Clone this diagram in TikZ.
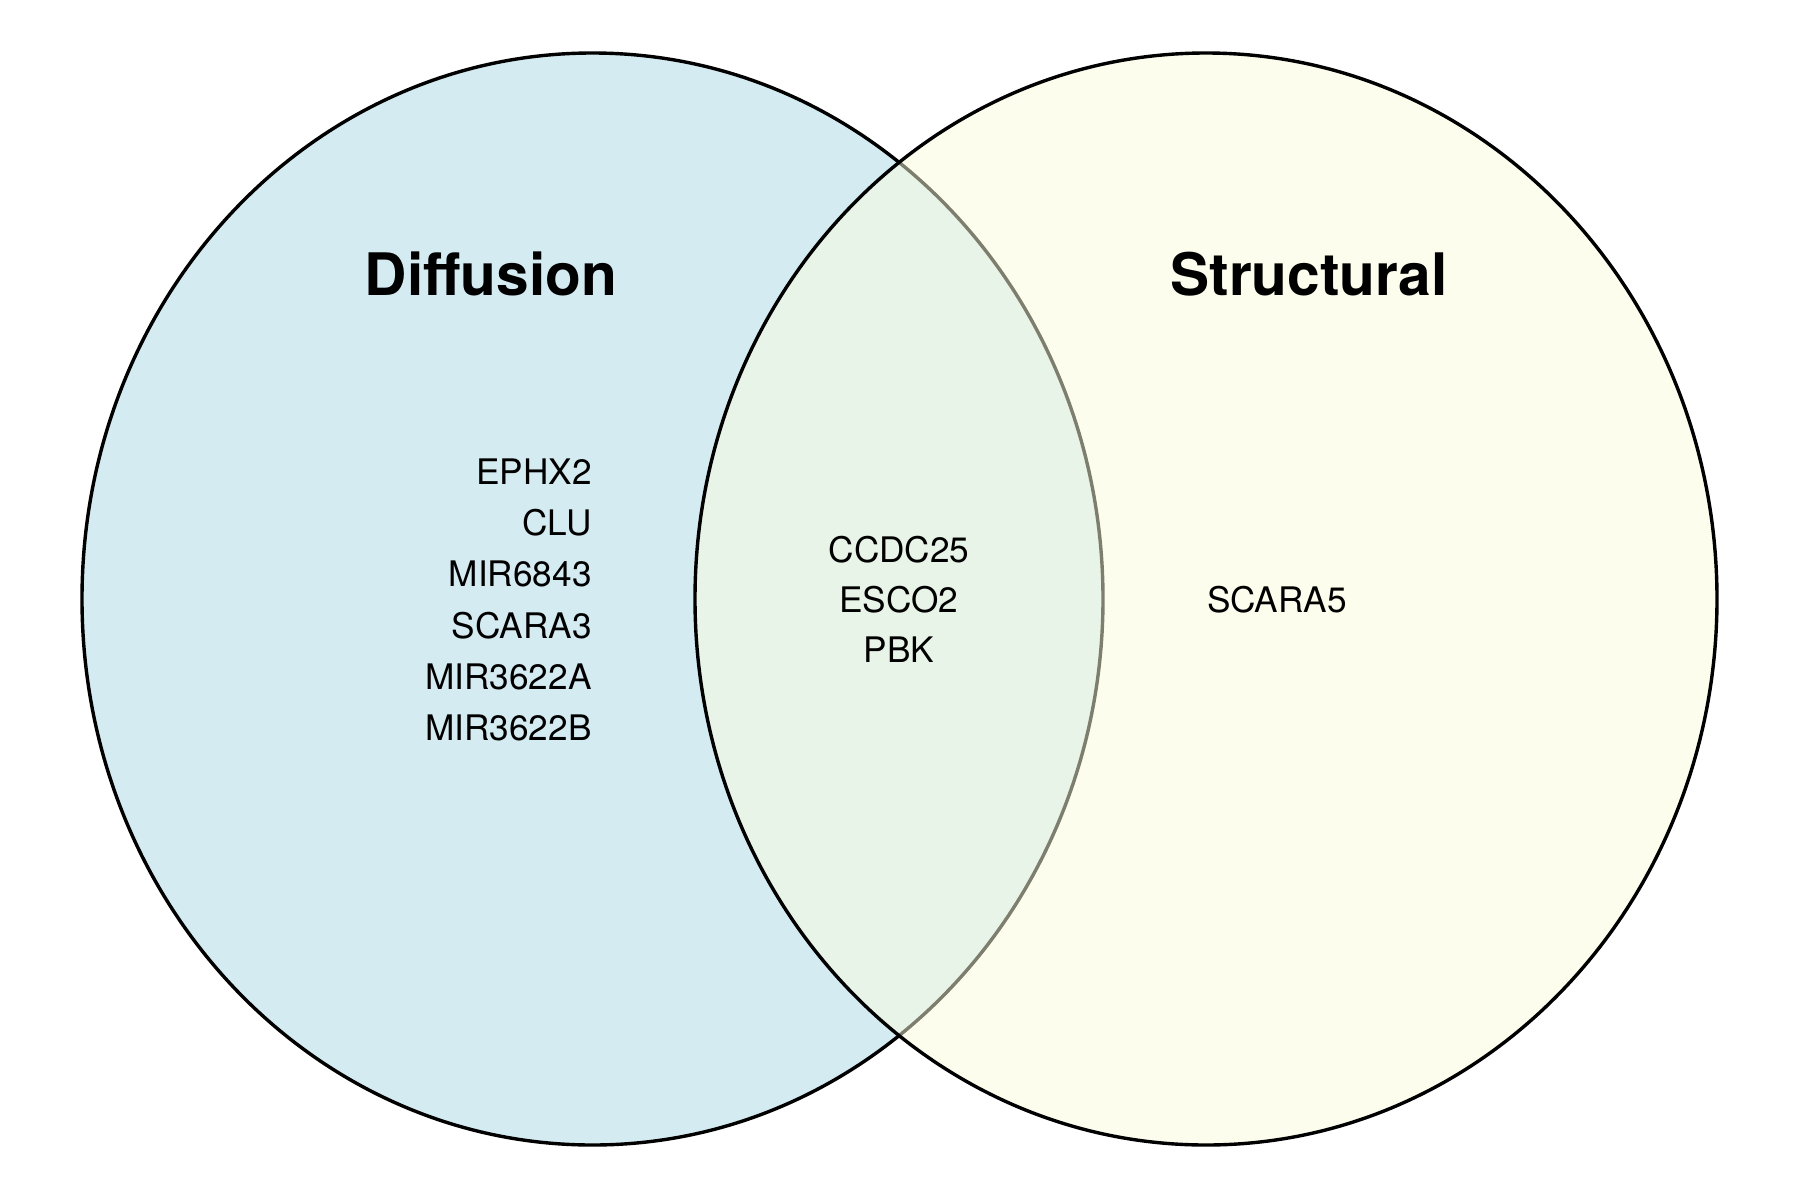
\documentclass[tikz,border=0pt]{standalone}
\usepackage{fontspec}
\setmainfont{TeX Gyre Heros}
\definecolor{leftfill}{RGB}{173,216,230}
\definecolor{rightfill}{RGB}{251,253,221}
\tikzset{
  setline/.style={draw=black,line width=1.7pt},
  titlelbl/.style={anchor=base,font=\fontsize{29.3}{34}\selectfont\bfseries,inner sep=0pt},
  genelbl/.style={anchor=base,font=\fontsize{17.6}{21}\selectfont,inner sep=0pt},
  generight/.style={genelbl,anchor=base east}
}
\begin{document}
\begin{tikzpicture}[x=0.5pt,y=-0.5pt]
\fill[white] (0,0) rectangle (1800,1200);
\useasboundingbox (0,0) rectangle (1800,1200);
% left set
\fill[leftfill,fill opacity=0.5] (592.5,599) ellipse [x radius=255.25pt,y radius=273pt];
\draw[setline] (592.5,599) ellipse [x radius=255.25pt,y radius=273pt];
% right set
\fill[rightfill,fill opacity=0.5] (1206,599) ellipse [x radius=255.5pt,y radius=273pt];
\draw[setline] (1206,599) ellipse [x radius=255.5pt,y radius=273pt];
% titles
\node[titlelbl] (tl) at (491,295) {Diffusion};
\node[titlelbl] (tr) at (1309,295) {Structural};
% left only
\node[generight] (g1) at (592,484) {EPHX2};
\node[generight] (g2) at (592,535.5) {CLU};
\node[generight] (g3) at (592,586.8) {MIR6843};
\node[generight] (g4) at (592,638) {SCARA3};
\node[generight] (g5) at (592,689.3) {MIR3622A};
\node[generight] (g6) at (592,740.5) {MIR3622B};
% intersection
\node[genelbl] (m1) at (899,562) {CCDC25};
\node[genelbl] (m2) at (899,612) {ESCO2};
\node[genelbl] (m3) at (899,662) {PBK};
% right only
\node[genelbl] (r1) at (1277,612) {SCARA5};
\end{tikzpicture}
\end{document}
